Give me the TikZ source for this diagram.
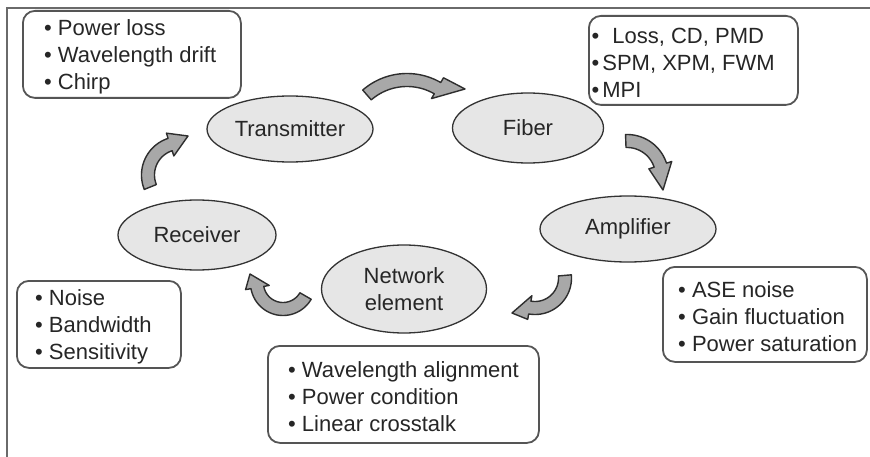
\documentclass[tikz,border=0pt]{standalone}
\usepackage{fontspec}
\setmainfont{Liberation Sans}
\usetikzlibrary{shapes.geometric,calc}

\definecolor{ink}{HTML}{262626}
\definecolor{framegray}{HTML}{6A6A6A}
\definecolor{boxline}{HTML}{555555}
\definecolor{stagefill}{HTML}{E6E6E6}
\definecolor{stageline}{HTML}{333333}
\definecolor{arrowfill}{HTML}{A8A8A8}
\definecolor{arrowline}{HTML}{2E2E2E}

% Curved block arrow around a centre: #1 centre, #2 radius,
% #3 tail angle, #4 angle where the head starts (screen angles, y down),
% #5 tip of the head, relative to the centre
\newcommand{\bentarrow}[5]{%
  \path[bentstyle,shift={#1}]
    plot[domain=#3:#4,samples=40] (\x:{#2+6.5})
    -- (#4:{#2+12}) -- #5 -- (#4:{#2-12})
    -- plot[domain=#4:#3,samples=40] (\x:{#2-6.5}) -- cycle;
}

\tikzset{
  stage/.style={ellipse, draw=stageline, fill=stagefill, line width=1.3pt,
    inner sep=0pt, text=ink, font=\fontsize{22}{27}\selectfont},
  infobox/.style={draw=boxline, line width=1.8pt, rounded corners=12pt,
    anchor=north west, inner sep=0pt},
  listtext/.style={anchor=west, align=left, inner sep=0pt, text=ink,
    font=\fontsize{22}{27}\selectfont},
  bentstyle/.style={fill=arrowfill, draw=arrowline, line width=1.4pt,
    line join=round},
}

\begin{document}
\begin{tikzpicture}[x=1pt,y=-1pt]
\useasboundingbox (0,0) rectangle (870,457);
\fill[white] (0,0) rectangle (870,457);

% page rules
\coordinate (ruleR) at (870,8);
\coordinate (ruleC) at (7,8);
\coordinate (ruleB) at (7,457);
\draw[framegray, line width=2pt] (ruleR) -- (ruleC) -- (ruleB);

% stages of the link
\node[stage, minimum width=166pt, minimum height=66pt] (tx) at (290,129) {Transmitter};
\node[stage, minimum width=151pt, minimum height=70pt] (fiber) at (528,128) {Fiber};
\node[stage, minimum width=176pt, minimum height=66pt] (amp) at (628,229) {Amplifier};
\node[stage, minimum width=158pt, minimum height=70pt] (rx) at (197,235) {Receiver};
\node[stage, minimum width=165pt, minimum height=88pt, align=center] (ne) at (404,289) {Network\\element};

% impairment lists: frame, then the bullet text inside it
\node[infobox, minimum width=218pt, minimum height=87pt] (txbox) at (22,10) {};
\node[listtext] (txlist) at ($(txbox.west)+(22,2)$)
  {• Power loss\\• Wavelength drift\\• Chirp};

\node[infobox, minimum width=209pt, minimum height=89pt] (fiberbox) at (588,15) {};
\node[listtext] (fiberlist) at ($(fiberbox.west)+(3.5,2)$)
  {•\hspace{13pt}Loss, CD, PMD\\•\hspace{3pt}SPM, XPM, FWM\\•\hspace{3pt}MPI};

\node[infobox, minimum width=204pt, minimum height=95pt] (ampbox) at (662,266) {};
\node[listtext] (amplist) at ($(ampbox.west)+(16,2)$)
  {• ASE noise\\• Gain fluctuation\\• Power saturation};

\node[infobox, minimum width=164pt, minimum height=87pt] (rxbox) at (16,280) {};
\node[listtext] (rxlist) at ($(rxbox.west)+(19,2)$)
  {• Noise\\• Bandwidth\\• Sensitivity};

\node[infobox, minimum width=271pt, minimum height=97pt] (nebox) at (267,345) {};
\node[listtext] (nelist) at ($(nebox.west)+(21,2)$)
  {• Wavelength alignment\\• Power condition\\• Linear crosstalk};

% circulating arrows between the stages
\bentarrow{(407,141)}{61}{229}{300}{(58,-52)}
\bentarrow{(627,176)}{35}{268}{342}{(36,14)}
\bentarrow{(535,278)}{30}{-5}{100}{(-23,35)}
\bentarrow{(283,283)}{26}{30}{170}{(-33,-9)}
\bentarrow{(180,175)}{32}{158}{252}{(8,-39)}
\end{tikzpicture}
\end{document}
